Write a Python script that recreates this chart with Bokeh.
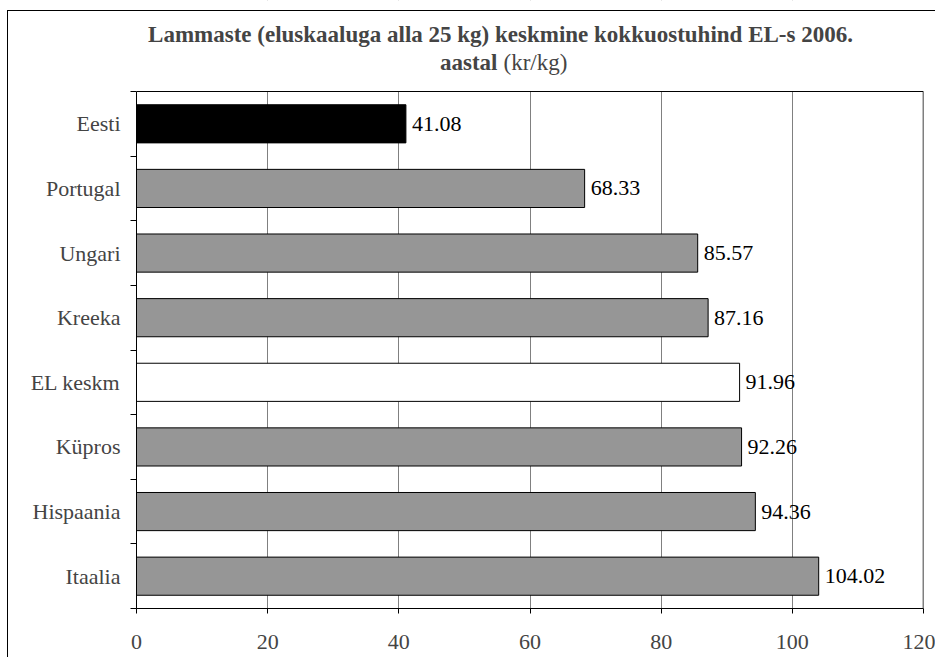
from bokeh.plotting import figure
from bokeh.models import (FixedTicker, Label, LabelSet, ColumnDataSource,
                          Range1d, InlineStyleSheet, Span)
from bokeh.embed import file_html
from bokeh.resources import INLINE

countries = ["Eesti", "Portugal", "Ungari", "Kreeka", "EL keskm",
             "Küpros", "Hispaania", "Itaalia"]
values = [41.08, 68.33, 85.57, 87.16, 91.96, 92.26, 94.36, 104.02]
bar_colors = ["#000000", "#969696", "#969696", "#969696", "#ffffff",
              "#969696", "#969696", "#969696"]
x_ticks = [0, 20, 40, 60, 80, 100, 120]
title_line1 = "Lammaste (eluskaaluga alla 25 kg) keskmine kokkuostuhind EL-s 2006."
title_line2_bold = "aastal"
title_line2_unit = "(kr/kg)"

FONT = "Liberation Serif"
FS = "22px"
N = len(countries)
XMAX = x_ticks[-1]

# layout (pixels)
W, H = 935, 657
FRAME_LEFT, FRAME_RIGHT_PAD, PLOT_TOP, FRAME_BOTTOM_PAD = 136, 12, 91, 49
plot_px = H - FRAME_BOTTOM_PAD - PLOT_TOP
extra = PLOT_TOP * N / plot_px   # room above the category area for the title

ypos = [i + 0.5 for i in range(N)]
src = ColumnDataSource(dict(y=ypos, v=values, c=bar_colors,
                            lab=["%.2f" % v for v in values]))

p = figure(width=W, height=H, output_backend="svg", toolbar_location=None,
           x_range=Range1d(0, XMAX), y_range=Range1d(N, -extra),
           min_border_left=FRAME_LEFT, min_border_right=FRAME_RIGHT_PAD,
           min_border_top=0, min_border_bottom=FRAME_BOTTOM_PAD)
p.outline_line_color = None

p.xgrid.grid_line_color = "#808080"
p.ygrid.grid_line_color = None

# white band above the plot area (hides grid lines in the title zone)
p.quad(left=0, right=XMAX, top=-extra, bottom=0, fill_color="white",
       line_color=None)

p.hbar(y="y", left=0, right="v", height=0.59, fill_color="c",
       line_color="black", line_width=1, source=src)

# plot-area border (top and right)
p.add_layout(Span(location=0, dimension="width", line_color="black",
                  line_width=1))
p.segment(x0=[XMAX], y0=[0], x1=[XMAX], y1=[N], line_color="black",
          line_width=1.5)

p.add_layout(LabelSet(x="v", y="y", text="lab", source=src, x_offset=6,
                      text_baseline="middle", text_font=FONT,
                      text_font_size=FS, text_color="black"))

p.xaxis.ticker = FixedTicker(ticks=x_ticks)
p.xaxis.major_tick_out = 5
p.xaxis.major_tick_in = 0
p.xaxis.minor_tick_line_color = None
p.xaxis.major_label_text_font = FONT
p.xaxis.major_label_text_font_size = FS
p.xaxis.major_label_standoff = 21
p.xaxis.axis_line_color = "black"

p.yaxis.bounds = (0, N)
p.yaxis.ticker = FixedTicker(ticks=ypos, minor_ticks=list(range(N + 1)))
p.yaxis.major_label_overrides = {y: c for y, c in zip(ypos, countries)}
p.yaxis.major_tick_line_color = None
p.yaxis.major_tick_out = 0
p.yaxis.major_tick_in = 0
p.yaxis.minor_tick_out = 6
p.yaxis.minor_tick_in = 0
p.yaxis.minor_tick_line_color = "black"
p.yaxis.major_label_text_font = FONT
p.yaxis.major_label_text_font_size = FS
p.yaxis.major_label_standoff = 10

p.add_layout(Label(x=364, y=574, x_units="screen", y_units="screen",
                   text=title_line1, text_font=FONT, text_font_size="23px",
                   text_font_style="bold", text_align="center",
                   text_baseline="middle"))
p.add_layout(Label(x=361, y=546, x_units="screen", y_units="screen",
                   text=title_line2_bold, text_font=FONT, text_font_size="23px",
                   text_font_style="bold", text_align="right",
                   text_baseline="middle"))
p.add_layout(Label(x=367, y=546, x_units="screen", y_units="screen",
                   text=title_line2_unit, text_font=FONT, text_font_size="23px",
                   text_align="left", text_baseline="middle"))

p.stylesheets = [InlineStyleSheet(css="""
:host::before { content: ''; position: absolute; left: 7px; top: 10px;
  right: 0; height: 0; border-top: 1.5px solid black; pointer-events: none;
  z-index: 10; }
:host::after { content: ''; position: absolute; left: 7px; top: 10px;
  bottom: 0; width: 0; border-left: 1.5px solid black; pointer-events: none;
  z-index: 10; }
""")]

open("out.html", "w").write(file_html(p, INLINE))
